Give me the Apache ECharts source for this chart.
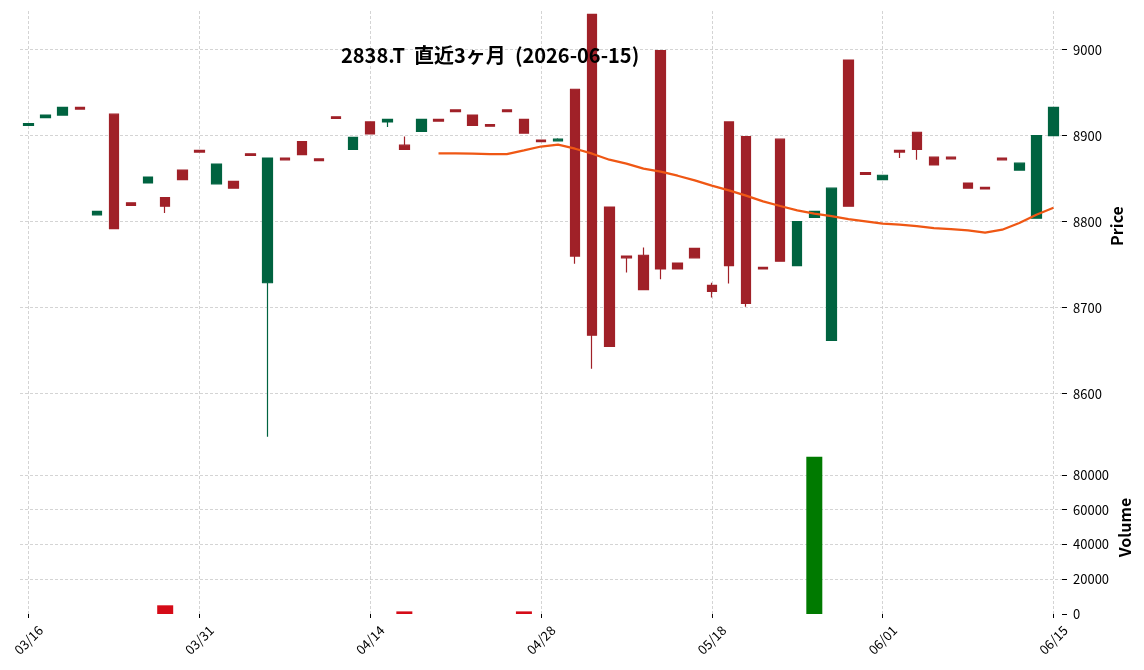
<!DOCTYPE html>
<html>
<head>
<meta charset="utf-8">
<script src="https://cdn.jsdelivr.net/npm/echarts@6/dist/echarts.min.js"></script>
<style>
  html, body { margin: 0; padding: 0; background: #fff; }
  #chart { width: 1144px; height: 670px; }
</style>
</head>
<body>
<div id="chart"></div>
<script>
const dates = [
  '03/16', '03/17', '03/18', '03/19', '03/23', '03/24', '03/25', '03/26', '03/27', '03/30',
  '03/31', '04/01', '04/02', '04/03', '04/06', '04/07', '04/08', '04/09', '04/10', '04/13',
  '04/14', '04/15', '04/16', '04/17', '04/20', '04/21', '04/22', '04/23', '04/24', '04/27',
  '04/28', '04/30', '05/01', '05/07', '05/08', '05/11', '05/12', '05/13', '05/14', '05/15',
  '05/18', '05/19', '05/20', '05/21', '05/22', '05/25', '05/26', '05/27', '05/28', '05/29',
  '06/01', '06/02', '06/03', '06/04', '06/05', '06/08', '06/09', '06/10', '06/11', '06/12',
  '06/15'
];

const open = [
  8912, 8921, 8924, 8933, 8808, 8925, 8822, 8845, 8828, 8860,
  8883, 8844, 8847, 8879, 8729, 8874, 8893, 8873, 8922, 8884,
  8916, 8916, 8889, 8905, 8919, 8930, 8924, 8913, 8930, 8919,
  8895, 8894, 8954, 9041, 8817, 8760, 8761, 8999, 8752, 8769,
  8726, 8916, 8899, 8747, 8896, 8749, 8805, 8662, 8988, 8857,
  8849, 8883, 8904, 8875, 8875, 8845, 8840, 8874, 8860, 8804,
  8900
];
const close = [
  8914, 8924, 8933, 8931, 8812, 8792, 8819, 8852, 8818, 8849,
  8881, 8867, 8839, 8877, 8874, 8872, 8878, 8871, 8920, 8898,
  8902, 8919, 8884, 8919, 8917, 8928, 8912, 8911, 8928, 8903,
  8893, 8896, 8760, 8668, 8655, 8758, 8721, 8745, 8745, 8758,
  8719, 8749, 8705, 8745, 8754, 8800, 8812, 8839, 8818, 8855,
  8854, 8881, 8884, 8866, 8873, 8839, 8838, 8872, 8868, 8900,
  8933
];
const low = [
  8912, 8921, 8924, 8931, 8808, 8792, 8819, 8845, 8810, 8849,
  8881, 8844, 8839, 8877, 8550, 8872, 8878, 8871, 8920, 8884,
  8902, 8910, 8884, 8905, 8917, 8928, 8912, 8911, 8928, 8903,
  8893, 8894, 8751, 8629, 8655, 8741, 8721, 8733, 8745, 8758,
  8712, 8728, 8701, 8745, 8754, 8749, 8805, 8662, 8818, 8855,
  8849, 8874, 8872, 8866, 8873, 8839, 8838, 8872, 8860, 8804,
  8900
];
const high = [
  8914, 8924, 8933, 8933, 8812, 8925, 8822, 8852, 8828, 8860,
  8883, 8867, 8847, 8879, 8874, 8874, 8893, 8873, 8922, 8898,
  8916, 8919, 8899, 8919, 8919, 8930, 8924, 8913, 8930, 8919,
  8895, 8897, 8954, 9041, 8817, 8760, 8770, 8999, 8752, 8769,
  8729, 8916, 8899, 8747, 8896, 8800, 8812, 8839, 8988, 8857,
  8854, 8883, 8904, 8875, 8875, 8845, 8840, 8874, 8868, 8900,
  8933
];
const volume = [
  0, 0, 0, 0, 0, 0, 0, 0, 5000, 0,
  0, 0, 0, 0, 0, 0, 0, 0, 0, 0,
  0, 0, 1500, 0, 0, 0, 0, 0, 0, 1500,
  0, 0, 0, 0, 0, 0, 0, 0, 0, 0,
  0, 0, 0, 0, 0, 0, 90400, 0, 0, 0,
  0, 0, 0, 0, 0, 0, 0, 0, 0, 0,
  0
];
// 25日移動平均
const ma25 = [
  '-', '-', '-', '-', '-', '-', '-', '-', '-', '-',
  '-', '-', '-', '-', '-', '-', '-', '-', '-', '-',
  '-', '-', '-', '-',
  8879.5, 8879.5, 8879.1, 8878.6, 8878.6, 8882.9, 8887.4, 8889.6, 8884.9, 8879.1,
  8872.1, 8867.5, 8861.7, 8858.2, 8853.5, 8848.1, 8841.9, 8836.4, 8830.3, 8823.6,
  8818.2, 8813.2, 8809.3, 8806.5, 8803.0, 8800.4, 8797.7, 8796.5, 8794.9, 8792.6,
  8791.4, 8789.9, 8787.2, 8790.7, 8798.4, 8808.2, 8816.3
];

const upColor = '#006340';
const downColor = '#a02128';
const volUp = '#007a00';
const volDown = '#d50b17';
const font = '"Noto Sans CJK JP", "Noto Sans", sans-serif';
const gridLine = { show: true, lineStyle: { color: '#c9c9c9', type: [3, 2], width: 0.8 } };
const every10 = (i) => i % 10 === 0;
const plain = (v) => String(v);

const candles = dates.map((d, i) => [open[i], close[i], low[i], high[i]]);
const volBars = volume.map((v, i) => ({
  value: v,
  itemStyle: { color: close[i] >= open[i] ? volUp : volDown }
}));

const chart = echarts.init(document.getElementById('chart'));
chart.setOption({
  animation: false,
  backgroundColor: '#fff',
  title: {
    text: '2838.T  直近3ヶ月  (2026-06-15)',
    left: 341,
    top: 45,
    padding: 0,
    textStyle: { fontFamily: font, fontSize: 20, fontWeight: 'bold', color: '#000' }
  },
  grid: [
    { left: 20, right: 82, top: 11, height: 430 },
    { left: 20, right: 82, top: 441, height: 173 }
  ],
  xAxis: [
    {
      type: 'category', gridIndex: 0, data: dates, boundaryGap: true,
      axisLine: { show: false }, axisTick: { show: false }, axisLabel: { show: false },
      splitLine: Object.assign({ interval: every10, alignWithLabel: true }, gridLine)
    },
    {
      type: 'category', gridIndex: 1, data: dates, boundaryGap: true,
      axisLine: { show: false },
      axisTick: { show: true, interval: every10, alignWithLabel: true, length: 4, lineStyle: { color: '#000' } },
      axisLabel: {
        interval: every10, rotate: 45, align: 'center', verticalAlign: 'middle', margin: 26,
        fontFamily: font, fontSize: 13, color: '#000'
      },
      splitLine: Object.assign({ interval: every10, alignWithLabel: true }, gridLine)
    }
  ],
  yAxis: [
    {
      type: 'value', gridIndex: 0, position: 'right', min: 8545, max: 9045, splitNumber: 5,
      axisLine: { show: false },
      axisTick: { show: true, length: 5, lineStyle: { color: '#000' } },
      axisLabel: {
        margin: 11, fontFamily: font, fontSize: 13, color: '#000',
        showMinLabel: false, showMaxLabel: false, formatter: plain
      },
      splitLine: Object.assign({ showMinLine: false, showMaxLine: false }, gridLine),
      name: 'Price', nameLocation: 'middle', nameRotate: 90, nameGap: 47, nameMoveOverlap: false,
      nameTextStyle: { fontFamily: font, fontSize: 16, fontWeight: 'bold', color: '#000' }
    },
    {
      type: 'value', gridIndex: 1, position: 'right', min: 0, max: 99500, interval: 20000,
      axisLine: { show: false },
      axisTick: { show: true, length: 5, lineStyle: { color: '#000' } },
      axisLabel: {
        margin: 11, fontFamily: font, fontSize: 13, color: '#000',
        showMaxLabel: false, formatter: plain
      },
      splitLine: Object.assign({ showMinLine: false, showMaxLine: false }, gridLine),
      name: 'Volume', nameLocation: 'middle', nameRotate: 90, nameGap: 55, nameMoveOverlap: false,
      nameTextStyle: { fontFamily: font, fontSize: 16, fontWeight: 'bold', color: '#000' }
    }
  ],
  series: [
    {
      type: 'candlestick', xAxisIndex: 0, yAxisIndex: 0, data: candles, barWidth: 10,
      itemStyle: {
        color: upColor, color0: downColor,
        borderColor: upColor, borderColor0: downColor, borderWidth: 1.2
      }
    },
    {
      type: 'line', xAxisIndex: 0, yAxisIndex: 0, data: ma25, showSymbol: false,
      lineStyle: { color: '#ef5714', width: 2.2 }
    },
    {
      type: 'bar', xAxisIndex: 1, yAxisIndex: 1, data: volBars, barWidth: 16
    }
  ]
});

window.addEventListener('resize', () => chart.resize());
</script>
</body>
</html>
